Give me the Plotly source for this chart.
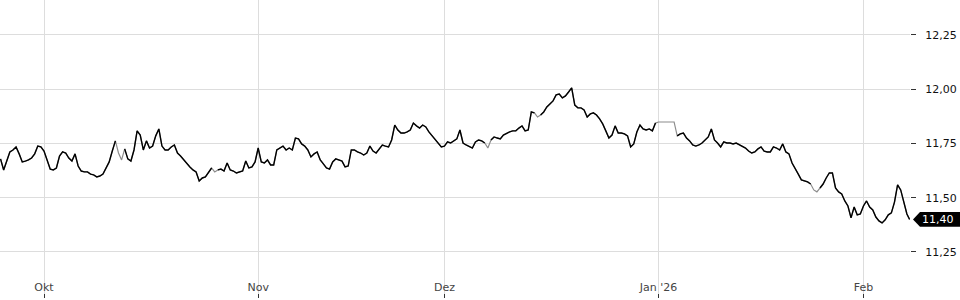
import pandas as pd
import plotly.graph_objects as go

# ---- axis labels ----
tick_dates = ["2025-10-01", "2025-11-03", "2025-12-01", "2026-01-01", "2026-02-02"]
tick_labels = ["Okt", "Nov", "Dez", "Jan '26", "Feb"]
y_ticks = [11.25, 11.50, 11.75, 12.00, 12.25]

# ---- price readings, 3 per trading day (00:00, 08:00, 16:00); None = thin/no trading ----
sep_values = [11.679, 11.628, 11.669, 11.711, 11.720, 11.734, 11.702, 11.665, 11.669, 11.674,
              11.683, 11.702, 11.738, 11.734]
oct_values = [11.715, 11.674, 11.632, 11.628, 11.637, 11.692, 11.711, 11.706, 11.683, 11.669,
              11.702, 11.646, 11.623, 11.619, 11.619, 11.609, 11.605, 11.596, 11.600, 11.609,
              11.637, 11.665, 11.715, 11.762, None, None, 11.725, 11.679, 11.669, 11.720,
              11.808, 11.789, 11.720, 11.762, 11.729, 11.738, 11.785, 11.817, 11.738, 11.720,
              11.720, 11.734, 11.743, 11.706, 11.692, 11.674, 11.656, 11.642, 11.628, 11.619,
              11.577, 11.591, 11.596, 11.614, 11.637, None, 11.628, 11.632, 11.623, 11.660,
              11.628, 11.623, 11.614, 11.619, 11.623, 11.669, 11.637, 11.642, 11.665]
nov_values = [11.729, 11.665, 11.660, 11.674, 11.651, 11.651, 11.720, 11.729, 11.738, 11.720,
              11.729, 11.720, 11.775, 11.771, 11.748, 11.738, 11.720, 11.688, 11.702, 11.711,
              11.674, 11.656, 11.637, 11.632, 11.665, 11.679, 11.674, 11.669, 11.642, 11.646,
              11.720, 11.720, 11.711, 11.706, 11.697, 11.706, 11.738, 11.715, 11.706, 11.725,
              11.743, 11.738, 11.734, 11.766, 11.835, 11.812, 11.798, 11.798, 11.803, 11.812,
              11.844, 11.831, 11.821, 11.835, 11.826, 11.803, 11.785, 11.766, 11.752, 11.734]
dec_values = [11.738, 11.757, 11.752, 11.762, 11.771, 11.812, 11.752, 11.743, 11.734, 11.729,
              11.757, 11.766, 11.762, 11.752, None, 11.766, 11.780, 11.775, 11.771, 11.789,
              11.798, 11.803, 11.808, 11.808, 11.821, 11.831, 11.808, 11.812, 11.895, 11.891,
              None, 11.881, 11.895, 11.918, 11.932, 11.946, 11.974, 11.978, 11.960, 11.969,
              11.987, 12.006, 11.927, 11.914, 11.914, 11.904, 11.872, 11.886, 11.891, 11.881,
              11.863, 11.840, 11.808, 11.775, 11.789, 11.831, 11.798, 11.798, 11.794, 11.785,
              11.734, 11.748, 11.803, 11.835, 11.817, 11.812, 11.817, 11.808, 11.844]
jan_values = [None, None, None, None, None, None, 11.785, 11.794, 11.798, 11.775,
              11.762, 11.743, 11.738, 11.743, 11.752, 11.766, 11.780, 11.817, 11.766, 11.752,
              11.734, 11.757, 11.752, 11.752, 11.748, 11.752, 11.743, 11.738, 11.729, 11.715,
              11.706, 11.711, 11.725, 11.734, 11.715, 11.711, 11.711, 11.734, 11.729, 11.720,
              11.748, 11.711, 11.702, 11.660, 11.637, 11.609, 11.582, 11.577, 11.573, 11.563,
              None, None, 11.545, 11.563, 11.591, 11.614, 11.614, 11.545, 11.527, 11.517,
              11.485, 11.462, 11.407, 11.457, 11.421, 11.425]
feb_values = [11.462, 11.485, 11.457, 11.444, 11.411, 11.393, 11.384, 11.398, 11.421, 11.430,
              11.480, 11.559, 11.536, 11.476, 11.425]
close_value = 11.40
close_time = "2026-02-06 23:00"

# values during the thin-trading stretches (drawn grey), in order of the None entries above
gap_values = [11.706, 11.674, 11.619, 11.729, 11.872,
              11.849, 11.849, 11.849, 11.849, 11.849, 11.849,
              11.536, 11.527]

# ---- build series ----
price = sep_values + oct_values + nov_values + dec_values + jan_values + feb_values + [close_value]
slots = pd.date_range("2025-09-24 08:00", "2026-02-06 16:00", freq="8h")
slots = slots[slots.dayofweek < 5]
times = list(slots) + [pd.Timestamp(close_time)]

gap_iter = iter(gap_values)
filled = [v if v is not None else next(gap_iter) for v in price]

fig = go.Figure()
fig.add_trace(go.Scatter(x=times, y=filled, mode="lines",
                         line=dict(color="#8c8c8c", width=1.2), hoverinfo="skip"))
fig.add_trace(go.Scatter(x=times, y=price, mode="lines", connectgaps=False,
                         line=dict(color="#000000", width=1.4)))

# last price badge
plot_w = 910.0
last = price[-1]
h = 0.034
fig.add_shape(type="path", xref="paper", yref="y",
              path=(f"M {913/plot_w},{last} L {920/plot_w},{last+h} L {960/plot_w},{last+h} "
                    f"L {960/plot_w},{last-h} L {920/plot_w},{last-h} Z"),
              fillcolor="#000000", line=dict(width=0), layer="above")
fig.add_annotation(x=938/plot_w, y=last, xref="paper", yref="y",
                   text=f"{last:.2f}".replace(".", ","), showarrow=False,
                   font=dict(color="white", size=11, family="DejaVu Sans"),
                   xanchor="center", yanchor="middle")

fig.update_layout(
    width=960, height=300,
    margin=dict(l=0, r=50, t=0, b=2),
    paper_bgcolor="white", plot_bgcolor="white",
    showlegend=False, hovermode=False,
    separators=",.",
    font=dict(family="DejaVu Sans", size=11, color="#111111"),
)
fig.update_xaxes(
    type="date",
    range=["2025-09-24 06:36", "2026-02-06 23:59"],
    rangebreaks=[dict(bounds=["sat", "mon"])],
    tickvals=tick_dates, ticktext=tick_labels,
    showgrid=True, gridcolor="#dddddd", gridwidth=1,
    ticks="inside", ticklen=4, tickcolor="#333333",
    ticklabelposition="inside",
    showline=False, zeroline=False,
)
fig.update_yaxes(
    side="right",
    range=[11.038, 12.411],
    tickvals=y_ticks, tickformat=".2f",
    showgrid=True, gridcolor="#dddddd", gridwidth=1,
    ticks="outside", ticklen=5, tickcolor="#333333",
    ticklabelstandoff=7,
    showline=False, zeroline=False,
)

fig.write_html("out.html")
